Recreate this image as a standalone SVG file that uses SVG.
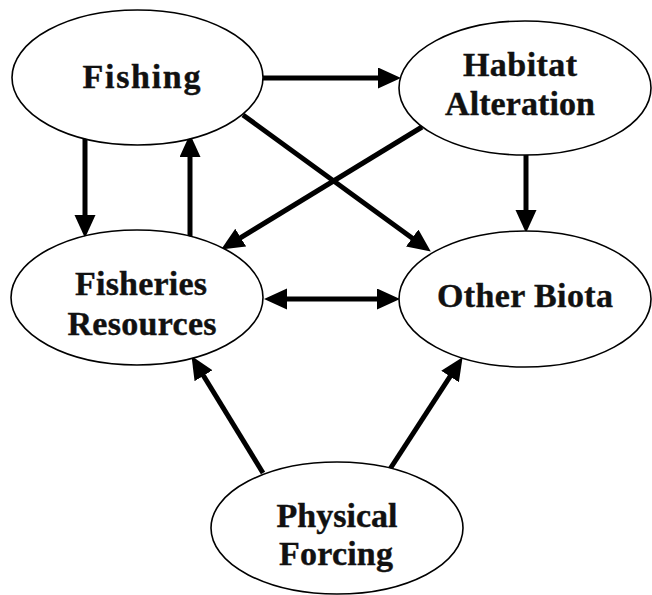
<svg xmlns="http://www.w3.org/2000/svg" width="652" height="595" viewBox="0 0 652 595">
<style>
.node ellipse{fill:#fff;stroke:#000;stroke-width:1.6}
.node text{font-family:"Liberation Serif","Times New Roman",serif;font-weight:bold;font-size:34px;fill:#111;stroke:#111;stroke-width:0.4;text-anchor:middle}
.edge{stroke:#000;stroke-width:5;fill:none;marker-end:url(#ah)}
</style>
<defs>
<marker id="ah" markerUnits="userSpaceOnUse" markerWidth="24" markerHeight="22" refX="10" refY="10.5" orient="auto-start-reverse">
<path d="M0,0 L23,10.5 L0,21 z" fill="#000"/>
</marker>
</defs>
<rect width="652" height="595" fill="#fff"/>
<g id="connectors">
<line class="edge" x1="263" y1="78" x2="388" y2="78"/>
<line class="edge" x1="243" y1="115" x2="420.3" y2="243.9"/>
<line class="edge" x1="422" y1="127" x2="232.2" y2="242.8"/>
<line class="edge" x1="85" y1="137" x2="85" y2="225"/>
<line class="edge" x1="190" y1="239" x2="190" y2="147"/>
<line class="edge" x1="526" y1="155" x2="526" y2="220"/>
<line class="edge" x1="277" y1="299" x2="387" y2="299" style="marker-start:url(#ah)"/>
<line class="edge" x1="263" y1="473" x2="198.3" y2="367.2"/>
<line class="edge" x1="390" y1="469" x2="455.5" y2="368.1"/>
</g>
<g id="fishing" class="node">
<ellipse cx="137.5" cy="77.5" rx="125.5" ry="67.5"/>
<text x="141.5" y="88" textLength="118" lengthAdjust="spacing">Fishing</text>
</g>
<g id="habitat" class="node">
<ellipse cx="525" cy="88" rx="126" ry="67"/>
<text x="520" y="76" textLength="114" lengthAdjust="spacing">Habitat</text>
<text x="520" y="115" textLength="150" lengthAdjust="spacing">Alteration</text>
</g>
<g id="fisheries" class="node">
<ellipse cx="137" cy="297.5" rx="126" ry="67.5"/>
<text x="141" y="295" textLength="132" lengthAdjust="spacing">Fisheries</text>
<text x="142" y="335" textLength="149" lengthAdjust="spacing">Resources</text>
</g>
<g id="otherbiota" class="node">
<ellipse cx="525" cy="299" rx="126" ry="68"/>
<text x="525" y="307" textLength="176" lengthAdjust="spacing">Other Biota</text>
</g>
<g id="physical" class="node">
<ellipse cx="337" cy="528" rx="126" ry="66"/>
<text x="337" y="527" textLength="121" lengthAdjust="spacing">Physical</text>
<text x="336" y="565" textLength="114" lengthAdjust="spacing">Forcing</text>
</g>
</svg>
